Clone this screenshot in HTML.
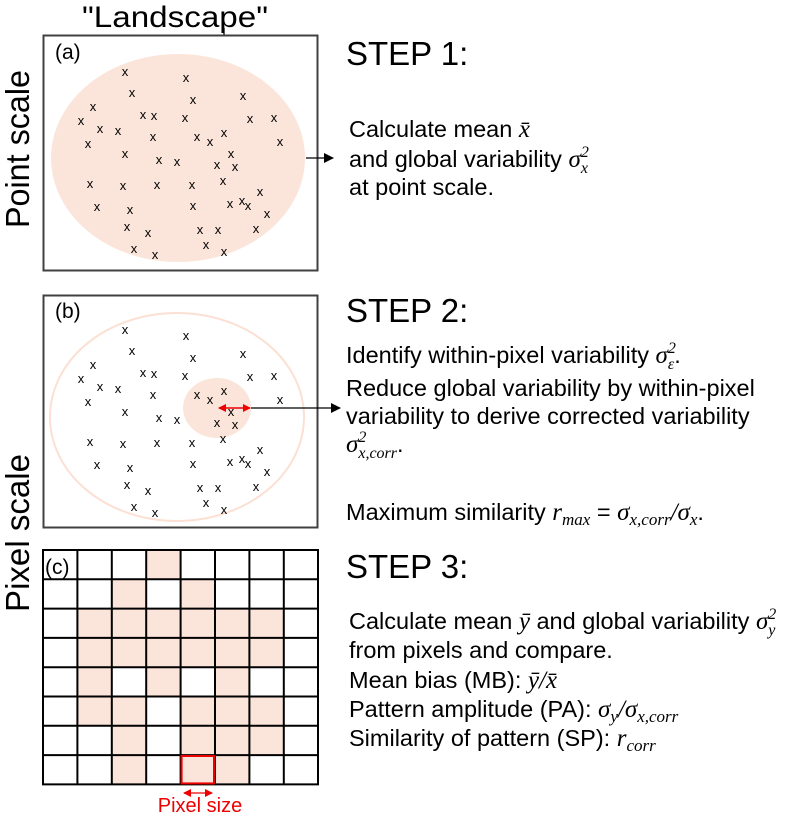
<!DOCTYPE html>
<html><head><meta charset="utf-8"><style>
html,body{margin:0;padding:0;background:#fff}
svg{display:block}
text{font-family:"Liberation Sans",sans-serif;fill:#000}
.m{font-family:"Liberation Serif",serif;font-style:italic}
.x{font-size:13px;text-anchor:middle}
</style></head><body>
<svg width="811" height="817" viewBox="0 0 811 817" xmlns="http://www.w3.org/2000/svg">
<defs>
<marker id="ah" markerWidth="10" markerHeight="10" refX="9" refY="5" orient="auto" markerUnits="userSpaceOnUse"><path d="M0,0 L10,5 L0,10 z" fill="#000"/></marker>
<marker id="rh" markerWidth="8" markerHeight="8" refX="7" refY="4" orient="auto-start-reverse" markerUnits="userSpaceOnUse"><path d="M0,0 L8,4 L0,8 z" fill="#e00"/></marker>
<g id="xs">
<text x="125" y="76" class="x">x</text><text x="186" y="82" class="x">x</text><text x="132" y="97" class="x">x</text><text x="193" y="104" class="x">x</text><text x="243" y="100" class="x">x</text>
<text x="93" y="111" class="x">x</text><text x="143" y="119" class="x">x</text><text x="154" y="120" class="x">x</text><text x="185" y="122" class="x">x</text><text x="250" y="123" class="x">x</text><text x="274" y="122" class="x">x</text>
<text x="81" y="125" class="x">x</text><text x="100" y="133" class="x">x</text><text x="118" y="135" class="x">x</text><text x="153" y="141" class="x">x</text><text x="197" y="141" class="x">x</text><text x="210" y="146" class="x">x</text><text x="224" y="137" class="x">x</text><text x="280" y="146" class="x">x</text>
<text x="88" y="148" class="x">x</text><text x="125" y="158" class="x">x</text><text x="231" y="158" class="x">x</text><text x="159" y="164" class="x">x</text><text x="177" y="166" class="x">x</text><text x="217" y="169" class="x">x</text><text x="235" y="171" class="x">x</text>
<text x="90" y="188" class="x">x</text><text x="123" y="190" class="x">x</text><text x="157" y="189" class="x">x</text><text x="192" y="189" class="x">x</text><text x="223" y="185" class="x">x</text><text x="260" y="196" class="x">x</text>
<text x="97" y="211" class="x">x</text><text x="130" y="214" class="x">x</text><text x="193" y="210" class="x">x</text><text x="230" y="208" class="x">x</text><text x="242" y="205" class="x">x</text><text x="248" y="210" class="x">x</text><text x="267" y="218" class="x">x</text>
<text x="127" y="231" class="x">x</text><text x="148" y="237" class="x">x</text><text x="200" y="234" class="x">x</text><text x="218" y="234" class="x">x</text><text x="256" y="233" class="x">x</text>
<text x="134" y="253" class="x">x</text><text x="155" y="259" class="x">x</text><text x="206" y="249" class="x">x</text><text x="224" y="256" class="x">x</text>
</g>
</defs>

<text x="175" y="27" font-size="30" text-anchor="middle" textLength="186" lengthAdjust="spacingAndGlyphs">"Landscape"</text>
<line x1="224" y1="28" x2="224" y2="35" stroke="#000" stroke-width="1.3"/>
<text transform="translate(29,149) rotate(-90)" font-size="33" text-anchor="middle" textLength="158" lengthAdjust="spacingAndGlyphs">Point scale</text>
<text transform="translate(29,533) rotate(-90)" font-size="33" text-anchor="middle" textLength="158" lengthAdjust="spacingAndGlyphs">Pixel scale</text>

<!-- panel a -->
<rect x="43.5" y="35.5" width="274" height="235" fill="#fff" stroke="#404040" stroke-width="2"/>
<ellipse cx="178" cy="158" rx="127" ry="104" fill="#fbe5da"/>
<text x="55" y="59" font-size="21">(a)</text>
<use href="#xs"/>
<line x1="306" y1="158" x2="333" y2="158" stroke="#000" stroke-width="1.3" marker-end="url(#ah)"/>

<!-- panel b -->
<rect x="43.5" y="295.5" width="274" height="232" fill="#fff" stroke="#404040" stroke-width="2"/>
<ellipse cx="177" cy="417" rx="127" ry="104" fill="none" stroke="#fbe0d3" stroke-width="2"/>
<ellipse cx="217" cy="408" rx="34" ry="30" fill="#fbe5da"/>
<text x="55" y="318" font-size="21">(b)</text>
<use href="#xs" transform="translate(0,258)"/>
<line x1="219" y1="408" x2="250" y2="408" stroke="#e00" stroke-width="1.5" marker-start="url(#rh)" marker-end="url(#rh)"/>
<line x1="251" y1="408" x2="340" y2="408" stroke="#000" stroke-width="1.3" marker-end="url(#ah)"/>

<!-- panel c grid -->
<g fill="#fbe5da">
<rect x="146" y="550" width="34.4" height="29.3"/>
<rect x="112" y="579" width="34.4" height="29.3"/><rect x="181" y="579" width="34.4" height="29.3"/>
<rect x="77" y="609" width="206" height="58.6"/>
<rect x="77" y="667" width="34.4" height="29.3"/><rect x="146" y="667" width="34.4" height="29.3"/><rect x="215" y="667" width="34.4" height="29.3"/>
<rect x="77" y="696" width="68.8" height="29.3"/><rect x="181" y="696" width="103" height="29.3"/>
<rect x="112" y="726" width="34.4" height="29.3"/><rect x="181" y="726" width="103" height="29.3"/>
<rect x="112" y="755" width="34.4" height="29.3"/><rect x="181" y="755" width="68.8" height="29.3"/>
</g>
<g stroke="#000" stroke-width="2">
<line x1="43" y1="550" x2="43" y2="785"/><line x1="77.4" y1="550" x2="77.4" y2="785"/><line x1="111.8" y1="550" x2="111.8" y2="785"/><line x1="146.2" y1="550" x2="146.2" y2="785"/><line x1="180.6" y1="550" x2="180.6" y2="785"/><line x1="215" y1="550" x2="215" y2="785"/><line x1="249.4" y1="550" x2="249.4" y2="785"/><line x1="283.8" y1="550" x2="283.8" y2="785"/><line x1="318" y1="550" x2="318" y2="785"/>
<line x1="42" y1="550" x2="319" y2="550"/><line x1="42" y1="579.3" x2="319" y2="579.3"/><line x1="42" y1="608.6" x2="319" y2="608.6"/><line x1="42" y1="637.9" x2="319" y2="637.9"/><line x1="42" y1="667.2" x2="319" y2="667.2"/><line x1="42" y1="696.5" x2="319" y2="696.5"/><line x1="42" y1="725.8" x2="319" y2="725.8"/><line x1="42" y1="755.1" x2="319" y2="755.1"/><line x1="42" y1="784.4" x2="319" y2="784.4"/>
</g>
<rect x="181.6" y="756" width="32.4" height="27.4" fill="none" stroke="#e00" stroke-width="2"/>
<text x="45" y="574" font-size="21">(c)</text>
<line x1="184" y1="793" x2="212" y2="793" stroke="#e00" stroke-width="1.3" marker-start="url(#rh)" marker-end="url(#rh)"/>
<text x="200" y="812" font-size="20" style="fill:#e00" text-anchor="middle">Pixel size</text>

<!-- text -->
<g font-size="23.5">
<text x="346" y="65" font-size="33">STEP 1:</text>
<text x="349" y="137">Calculate mean <tspan class="m" font-size="25">x̄</tspan></text>
<text x="349" y="167">and global variability <tspan class="m" font-size="25">σ</tspan><tspan class="m" font-size="16" dy="-10">2</tspan><tspan class="m" font-size="16" dx="-8" dy="16">x</tspan></text>
<text x="349" y="195">at point scale.</text>

<text x="346" y="322" font-size="33">STEP 2:</text>
<text x="346" y="363">Identify within-pixel variability <tspan class="m" font-size="25">σ</tspan><tspan class="m" font-size="16" dy="-10">2</tspan><tspan class="m" font-size="16" dx="-8" dy="16">ε</tspan><tspan dy="-6">.</tspan></text>
<text x="346" y="396">Reduce global variability by within-pixel</text>
<text x="346" y="424">variability to derive corrected variability</text>
<text x="346" y="452"><tspan class="m" font-size="25">σ</tspan><tspan class="m" font-size="16" dy="-10">2</tspan><tspan class="m" font-size="16" dx="-8" dy="16">x,corr</tspan><tspan dy="-6">.</tspan></text>
<text x="346" y="520">Maximum similarity <tspan class="m" font-size="25">r</tspan><tspan class="m" font-size="17" dy="5">max</tspan><tspan dy="-5"> = </tspan><tspan class="m" font-size="25">σ</tspan><tspan class="m" font-size="17" dy="5">x,corr</tspan><tspan class="m" font-size="25" dy="-5">/σ</tspan><tspan class="m" font-size="17" dy="5">x</tspan><tspan dy="-5">.</tspan></text>

<text x="346" y="578" font-size="33">STEP 3:</text>
<text x="349" y="629">Calculate mean <tspan class="m" font-size="25">ȳ</tspan> and global variability <tspan class="m" font-size="25">σ</tspan><tspan class="m" font-size="16" dy="-10">2</tspan><tspan class="m" font-size="16" dx="-8" dy="16">y</tspan></text>
<text x="349" y="658">from pixels and compare.</text>
<text x="349" y="688">Mean bias (MB): <tspan class="m" font-size="25">ȳ/x̄</tspan></text>
<text x="349" y="717">Pattern amplitude (PA): <tspan class="m" font-size="25">σ</tspan><tspan class="m" font-size="17" dy="5">y</tspan><tspan class="m" font-size="25" dy="-5">/σ</tspan><tspan class="m" font-size="17" dy="5">x,corr</tspan></text>
<text x="349" y="746">Similarity of pattern (SP): <tspan class="m" font-size="25">r</tspan><tspan class="m" font-size="17" dy="5">corr</tspan></text>
</g>
</svg>
</body></html>
